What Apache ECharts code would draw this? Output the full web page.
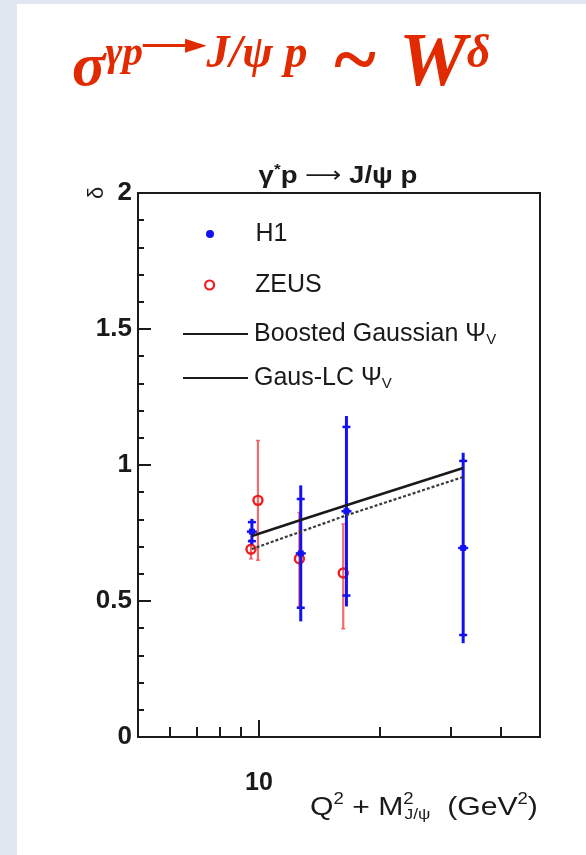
<!DOCTYPE html>
<html>
<head>
<meta charset="utf-8">
<script src="https://cdn.jsdelivr.net/npm/echarts@6/dist/echarts.min.js"></script>
<style>
  html, body { margin: 0; padding: 0; background: #e1e7f1; }
  #chart { width: 586px; height: 855px; }
</style>
</head>
<body>
<div id="chart"></div>
<script>
// H1: scale Q^2 + M^2 (GeV^2), fitted delta, statistical and total errors
const h1Scale = [9.6, 12.7, 16.5, 32.2];
const h1Delta = [0.755, 0.675, 0.83, 0.695];
const h1Stat  = [0.035, 0.20, 0.31, 0.32];
const h1Total = [0.047, 0.25, 0.35, 0.35];

// ZEUS: scale, fitted delta, upper and lower errors
const zeusScale   = [9.55, 9.94, 12.6, 16.2];
const zeusDelta   = [0.69, 0.87, 0.655, 0.603];
const zeusErrUp   = [0.035, 0.22, 0.17, 0.18];
const zeusErrDown = [0.035, 0.22, 0.175, 0.205];

// Dipole model predictions
const modelScale      = [9.6, 12.7, 16.5, 32.2];
const boostedGaussian = [0.739, 0.798, 0.852, 0.989];
const gausLC          = [0.691, 0.755, 0.815, 0.956];

// Axis ticks
const xMajorTicks = [10];
const xMinorTicks = [6, 7, 8, 9, 20, 30, 40];

const BLUE = '#1212f0';
const RED = '#ef1d1d';
const RED_BAR = 'rgba(242, 90, 90, 0.9)';
const INK = '#1a1a1a';
const SANS = 'Liberation Sans';
const SERIF = 'Liberation Serif';
const TITLE_RED = '#e12a00';

function renderH1(params, api) {
  const x = api.value(0), y = api.value(1), st = api.value(2), tot = api.value(3);
  const c = api.coord([x, y]);
  const top = api.coord([x, y + tot]);
  const bot = api.coord([x, y - tot]);
  const sHi = api.coord([x, y + st]);
  const sLo = api.coord([x, y - st]);
  const tick = (p, w) => ({
    type: 'line',
    shape: { x1: c[0] - w, y1: p[1], x2: c[0] + w, y2: p[1] },
    style: { stroke: BLUE, lineWidth: 2.5 }
  });
  return {
    type: 'group',
    children: [
      { type: 'line', shape: { x1: c[0], y1: top[1], x2: c[0], y2: bot[1] }, style: { stroke: BLUE, lineWidth: 3 } },
      tick(sHi, 4),
      tick(sLo, 4),
      { type: 'rect', shape: { x: c[0] - 3, y: c[1] - 3, width: 6, height: 6 }, style: { fill: BLUE } },
      tick(c, 5)
    ]
  };
}

function renderZeus(params, api) {
  const x = api.value(0), y = api.value(1), up = api.value(2), dn = api.value(3);
  const c = api.coord([x, y]);
  const hi = api.coord([x, y + up]);
  const lo = api.coord([x, y - dn]);
  const endTick = (p) => ({
    type: 'line',
    shape: { x1: c[0] - 2, y1: p[1], x2: c[0] + 2, y2: p[1] },
    style: { stroke: RED_BAR, lineWidth: 1.5 }
  });
  return {
    type: 'group',
    children: [
      { type: 'line', shape: { x1: c[0], y1: hi[1], x2: c[0], y2: lo[1] }, style: { stroke: RED_BAR, lineWidth: 2.2 } },
      endTick(hi),
      endTick(lo),
      { type: 'circle', shape: { cx: c[0], cy: c[1], r: 4.5 }, style: { fill: 'none', stroke: RED, lineWidth: 2.4 } }
    ]
  };
}

const chart = echarts.init(document.getElementById('chart'));

const logAxisBase = {
  type: 'log',
  logBase: 10,
  min: 5,
  max: 50,
  gridIndex: 0,
  position: 'bottom',
  splitLine: { show: false },
  minorTick: { show: false },
  minorSplitLine: { show: false }
};

function legendText(padLeft) {
  return {
    fontFamily: SANS, fontSize: 25, color: INK, lineHeight: 30,
    padding: [0, 0, 0, padLeft],
    rich: {
      t: { fontFamily: SANS, fontSize: 25, color: INK, lineHeight: 30 },
      v: { fontFamily: SANS, fontSize: 15, color: INK, padding: [12, 0, 0, 0] }
    }
  };
}
const legendFormatter = (name) => name.endsWith('Ψ') ? '{t|' + name + '}{v|V}' : '{t|' + name + '}';
const legendBase = {
  orient: 'vertical', itemWidth: 65, selectedMode: false, formatter: legendFormatter
};

const option = {
  backgroundColor: '#e1e7f1',
  animation: false,
  grid: {
    left: 138, top: 193, right: 46, bottom: 118,
    show: true, borderColor: INK, borderWidth: 2, backgroundColor: 'transparent'
  },
  legend: [
    Object.assign({}, legendBase, {
      left: 201, top: 214, itemHeight: 8, textStyle: legendText(8),
      data: [{ name: 'H1', icon: 'circle', itemStyle: { color: BLUE, borderWidth: 0 } }]
    }),
    Object.assign({}, legendBase, {
      left: 199, top: 265, itemHeight: 9, textStyle: legendText(8),
      data: [{ name: 'ZEUS', icon: 'circle', itemStyle: { color: '#ffffff', borderColor: RED, borderWidth: 2.2 } }]
    }),
    Object.assign({}, legendBase, {
      left: 178, top: 314, itemHeight: 2, itemGap: 14, textStyle: legendText(1),
      data: [
        { name: 'Boosted Gaussian Ψ', icon: 'rect', itemStyle: { color: INK } },
        { name: 'Gaus-LC Ψ', icon: 'rect', itemStyle: { color: INK } }
      ]
    })
  ],
  xAxis: [
    Object.assign({}, logAxisBase, {
      axisLine: { show: true, lineStyle: { color: INK, width: 2 } },
      axisTick: { show: true, inside: true, length: 17, customValues: xMajorTicks, lineStyle: { color: INK, width: 2 } },
      axisLabel: {
        customValues: xMajorTicks, margin: 34,
        fontFamily: SANS, fontWeight: 'bold', fontSize: 25, color: INK
      }
    }),
    Object.assign({}, logAxisBase, {
      axisLine: { show: false },
      axisTick: { show: true, inside: true, length: 10, customValues: xMinorTicks, lineStyle: { color: INK, width: 2 } },
      axisLabel: { show: false }
    })
  ],
  yAxis: {
    type: 'value',
    min: 0,
    max: 2,
    interval: 0.5,
    axisLine: { show: true, lineStyle: { color: INK, width: 2 } },
    axisTick: { show: true, inside: true, length: 13, lineStyle: { color: INK, width: 2 } },
    minorTick: { show: true, splitNumber: 5, length: 6, lineStyle: { color: INK, width: 2 } },
    splitLine: { show: false },
    axisLabel: { margin: 6, fontFamily: SANS, fontWeight: 'bold', fontSize: 26, color: INK }
  },
  series: [
    {
      name: 'ZEUS',
      type: 'custom',
      xAxisIndex: 0,
      renderItem: renderZeus,
      encode: { x: 0, y: 1 },
      itemStyle: { color: RED },
      z: 2,
      data: zeusScale.map((x, i) => [x, zeusDelta[i], zeusErrUp[i], zeusErrDown[i]])
    },
    {
      name: 'H1',
      type: 'custom',
      xAxisIndex: 0,
      renderItem: renderH1,
      encode: { x: 0, y: 1 },
      itemStyle: { color: BLUE },
      z: 3,
      data: h1Scale.map((x, i) => [x, h1Delta[i], h1Stat[i], h1Total[i]])
    },
    {
      name: 'Boosted Gaussian Ψ',
      type: 'line',
      xAxisIndex: 0,
      symbol: 'none',
      z: 4,
      lineStyle: { color: INK, width: 2.5 },
      itemStyle: { color: INK },
      data: modelScale.map((x, i) => [x, boostedGaussian[i]])
    },
    {
      name: 'Gaus-LC Ψ',
      type: 'line',
      xAxisIndex: 0,
      symbol: 'none',
      z: 4,
      lineStyle: { color: '#3a3a3a', width: 2.2, type: [3, 2] },
      itemStyle: { color: INK },
      data: modelScale.map((x, i) => [x, gausLC[i]])
    }
  ],
  graphic: [
    { type: 'rect', z: -10, silent: true, shape: { x: 17, y: 4, width: 569, height: 851 }, style: { fill: '#ffffff' } },
    {
      type: 'text', x: 72, y: 65, z: 10,
      style: {
        text: '{g|σ}{s2|γp}{sh|—}{hd|►}{s|J/ψ p}{tl|~}{w|W}{s|δ}',
        verticalAlign: 'middle',
        align: 'left',
        rich: {
          g: { fontFamily: SERIF, fontStyle: 'italic', fontWeight: 'bold', fontSize: 62, fill: TITLE_RED, padding: [8, 0, 0, 0] },
          tl: { fontFamily: SERIF, fontStyle: 'italic', fontWeight: 'bold', fontSize: 80, fill: TITLE_RED, padding: [0, 0, 0, 24] },
          w: { fontFamily: SERIF, fontStyle: 'italic', fontWeight: 'bold', fontSize: 76, fill: TITLE_RED, padding: [0, 0, 0, 22] },
          s: { fontFamily: SERIF, fontStyle: 'italic', fontWeight: 'bold', fontSize: 46, fill: TITLE_RED, padding: [0, 0, 20, 0] },
          s2: { fontFamily: SERIF, fontStyle: 'italic', fontWeight: 'bold', fontSize: 41, fill: TITLE_RED, padding: [0, 0, 22, 0] },
          sh: { fontFamily: SERIF, fontWeight: 'bold', fontSize: 42, fill: TITLE_RED, padding: [0, 0, 42, 0] },
          hd: { fontFamily: 'DejaVu Sans', fontSize: 28, fill: TITLE_RED, padding: [0, 0, 38, 0] }
        }
      }
    },
    {
      type: 'text', x: 338, y: 176, z: 10, scaleX: 1.15,
      style: {
        text: 'γ{a|*}p {r|⟶} J/ψ p',
        align: 'center', verticalAlign: 'middle',
        fontFamily: SANS, fontWeight: 'bold', fontSize: 24, fill: INK,
        rich: {
          a: { fontFamily: SANS, fontWeight: 'bold', fontSize: 15, fill: INK, padding: [0, 0, 12, 0] },
          r: { fontFamily: 'DejaVu Sans', fontSize: 22, fill: INK }
        }
      }
    },
    {
      type: 'text', x: 97, y: 193, rotation: Math.PI / 2, z: 10,
      style: { text: 'δ', align: 'center', verticalAlign: 'middle', fontFamily: SANS, fontSize: 22, fill: INK }
    },
    {
      type: 'text', x: 310, y: 808, z: 10, scaleX: 1.16,
      style: {
        text: '{t|Q}{p|2}{t| + M}{pw|2}{sb|J/ψ}{t|  (GeV}{p|2}{t|)}',
        align: 'left', verticalAlign: 'middle',
        rich: {
          t: { fontFamily: SANS, fontSize: 26, fill: INK },
          p: { fontFamily: SANS, fontSize: 16, fill: INK, padding: [0, 0, 16, 0] },
          pw: { fontFamily: SANS, fontSize: 16, fill: INK, width: 1, align: 'left', padding: [0, 0, 16, 0] },
          sb: { fontFamily: SANS, fontSize: 15, fill: INK, padding: [14, 0, 0, 0] }
        }
      }
    }
  ]
};

chart.setOption(option);
</script>
</body>
</html>
